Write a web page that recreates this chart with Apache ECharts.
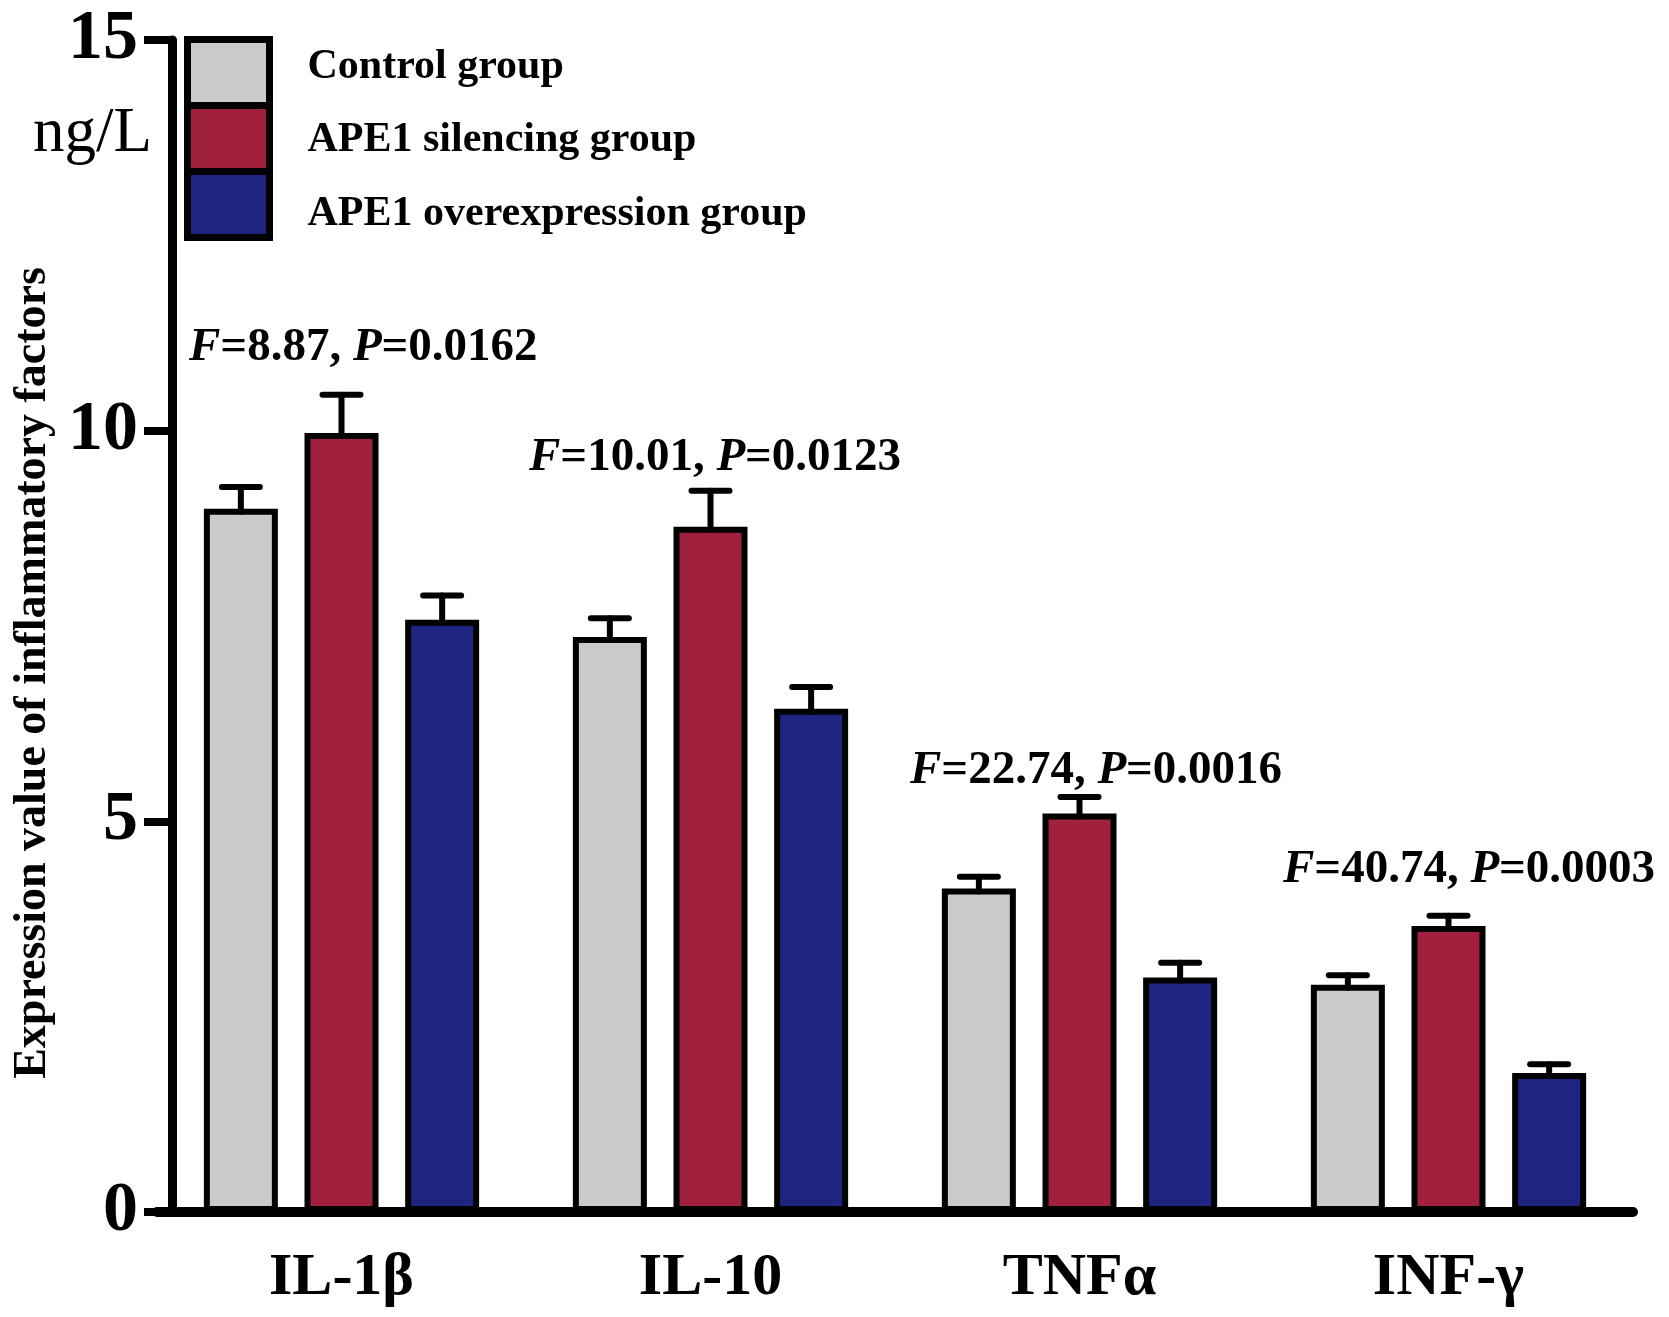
<!DOCTYPE html>
<html>
<head>
<meta charset="utf-8">
<title>Expression value of inflammatory factors</title>
<script src="https://cdn.jsdelivr.net/npm/echarts@6/dist/echarts.min.js"></script>
<style>
  html, body { margin: 0; padding: 0; background: #fff; }
  #chart { width: 1669px; height: 1317px; }
</style>
</head>
<body>
<div id="chart"></div>
<script>
// categories and series values (ng/L)
const categories = ['IL-1β', 'IL-10', 'TNFα', 'INF-γ']
const groupNames = ['Control group', 'APE1 silencing group', 'APE1 overexpression group']
const controlValues = [9.00, 7.36, 4.14, 2.91]
const controlErrors = [0.28, 0.24, 0.15, 0.12]
const silencingValues = [9.97, 8.77, 5.10, 3.66]
const silencingErrors = [0.49, 0.46, 0.21, 0.13]
const overexpValues = [7.58, 6.44, 3.00, 1.78]
const overexpErrors = [0.31, 0.28, 0.19, 0.11]
const statLabels = [
  ['8.87', '0.0162'],
  ['10.01', '0.0123'],
  ['22.74', '0.0016'],
  ['40.74', '0.0003']
]
const yTicks = [0, 5, 10, 15]

const SERIF = '"Liberation Serif", "Times New Roman", serif'
const colors = ['#cacaca', '#a0203d', '#1e2580']
const BAR_W = 74
const BAR_GAP = 0.36

const chart = echarts.init(document.getElementById('chart'))

// error bar drawn above each bar (offset by bar slot)
function errorSeries(name, values, errors, slot) {
  return {
    name: name,
    type: 'custom',
    z: 5,
    encode: { x: 0, y: 1 },
    data: values.map((v, i) => [i, v, errors[i]]),
    renderItem: function (params, api) {
      const base = api.coord([api.value(0), api.value(1)])
      const top = api.coord([api.value(0), api.value(1) + api.value(2)])
      const cx = base[0] + (slot - 1) * BAR_W * (1 + BAR_GAP)
      const st = { stroke: '#000', lineWidth: 6, lineCap: 'round' }
      return {
        type: 'group',
        children: [
          { type: 'line', shape: { x1: cx, y1: base[1] + 3, x2: cx, y2: top[1] }, style: st },
          { type: 'line', shape: { x1: cx - 19, y1: top[1], x2: cx + 19, y2: top[1] }, style: st }
        ]
      }
    }
  }
}

function barSeries(name, values, color) {
  return {
    name: name,
    type: 'bar',
    barWidth: BAR_W,
    barGap: (BAR_GAP * 100) + '%',
    data: values,
    itemStyle: { color: color, borderColor: '#000', borderWidth: 6 }
  }
}

const annX = [189, 529, 910, 1283]
const annY = [348, 458, 771, 870]
const statGraphics = statLabels.map((s, i) => ({
  type: 'text',
  x: annX[i],
  y: annY[i],
  style: {
    text: '{i|F}{n|=' + s[0] + ', }{i|P}{n|=' + s[1] + '}',
    textVerticalAlign: 'middle',
    rich: {
      i: { fontFamily: SERIF, fontSize: 47, fontWeight: 'bold', fontStyle: 'italic', fill: '#000' },
      n: { fontFamily: SERIF, fontSize: 47, fontWeight: 'bold', fill: '#000' }
    }
  }
}))

const legendFont = { fontFamily: SERIF, fontSize: 42, fontWeight: 'bold', color: '#000' }

chart.setOption({
  animation: false,
  backgroundColor: '#fff',
  color: colors,
  grid: { left: 157, right: 36, top: 40, bottom: 105 },
  legend: {
    data: groupNames,
    orient: 'vertical',
    left: 184,
    top: 36,
    padding: 0,
    itemGap: -7,
    itemWidth: 82,
    itemHeight: 66,
    icon: 'rect',
    itemStyle: { borderColor: '#000', borderWidth: 7 },
    formatter: function (name) {
      return '{r' + groupNames.indexOf(name) + '|' + name + '}'
    },
    textStyle: Object.assign({
      padding: [0, 0, 0, 33],
      rich: {
        r0: Object.assign({ padding: [0, 0, 10, 0] }, legendFont),
        r1: Object.assign({ padding: [4, 0, 0, 0] }, legendFont),
        r2: Object.assign({ padding: [20, 0, 0, 0] }, legendFont)
      }
    }, legendFont)
  },
  xAxis: {
    type: 'category',
    data: categories,
    axisLine: { lineStyle: { color: '#000', width: 10 } },
    axisTick: { alignWithLabel: true, length: 28, lineStyle: { color: '#000', width: 6 } },
    axisLabel: { margin: 36, fontFamily: SERIF, fontSize: 60, fontWeight: 'bold', color: '#000' }
  },
  yAxis: {
    type: 'value',
    min: yTicks[0],
    max: yTicks[yTicks.length - 1],
    interval: 5,
    offset: -15,
    axisLine: { show: true, lineStyle: { color: '#000', width: 9 } },
    axisTick: { show: true, length: 28, lineStyle: { color: '#000', width: 8 } },
    splitLine: { show: false },
    axisLabel: { margin: 34, fontFamily: SERIF, fontSize: 70, fontWeight: 'bold', color: '#000' }
  },
  graphic: [
    {
      type: 'text',
      x: 33,
      y: 673,
      rotation: Math.PI / 2,
      style: {
        text: 'Expression value of inflammatory factors',
        fontFamily: SERIF, fontSize: 46, fontWeight: 'bold', fill: '#000',
        textAlign: 'center', textVerticalAlign: 'middle'
      }
    },
    {
      type: 'text',
      x: 33,
      y: 134,
      style: {
        text: 'ng/L',
        fontFamily: SERIF, fontSize: 63, fill: '#000',
        textAlign: 'left', textVerticalAlign: 'middle'
      }
    }
  ].concat(statGraphics),
  series: [
    barSeries(groupNames[0], controlValues, colors[0]),
    barSeries(groupNames[1], silencingValues, colors[1]),
    barSeries(groupNames[2], overexpValues, colors[2]),
    errorSeries('err-control', controlValues, controlErrors, 0),
    errorSeries('err-silencing', silencingValues, silencingErrors, 1),
    errorSeries('err-overexp', overexpValues, overexpErrors, 2)
  ]
})
</script>
</body>
</html>
